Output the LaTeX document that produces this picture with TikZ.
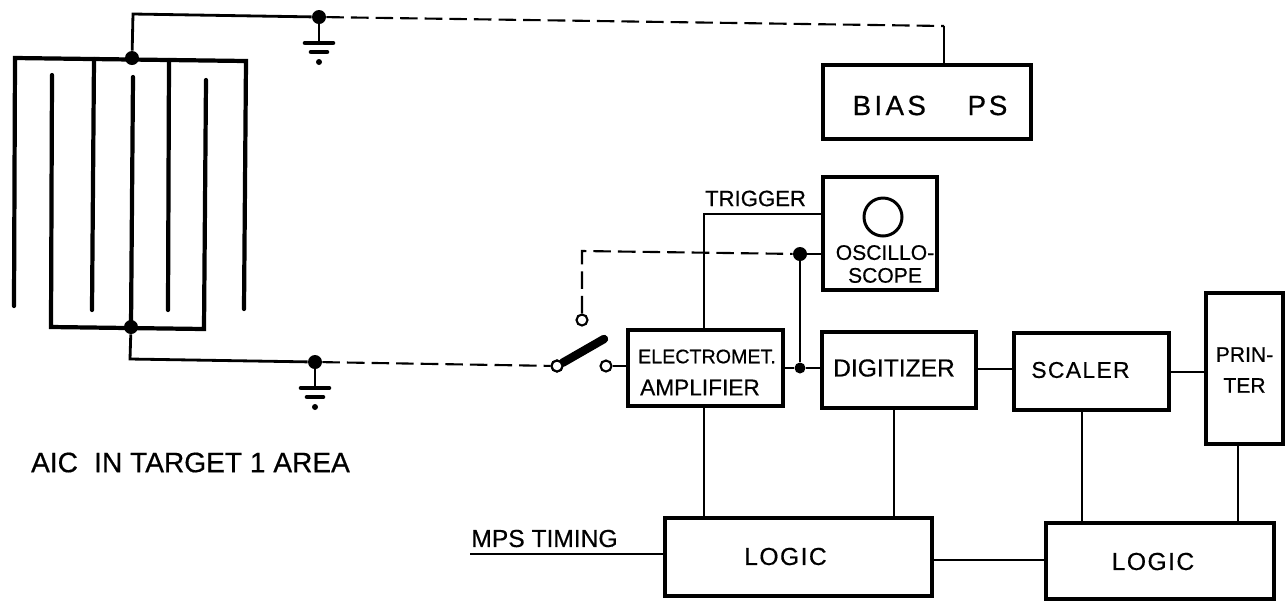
\documentclass[tikz,border=0pt]{standalone}
\usepackage{fontspec}
\setmainfont{Liberation Sans}[FakeBold=0.5]
\newfontfamily\spaced{Liberation Sans}[LetterSpace=6,FakeBold=0.5]
\newfontfamily\wspaced{Liberation Sans}[LetterSpace=12,FakeBold=0.5]
\usetikzlibrary{calc}
\tikzset{
  x=0.02cm,y=-0.02cm,
  box/.style 2 args={draw,line width=2pt,inner sep=0pt,minimum width=#1*0.02cm,minimum height=#2*0.02cm},
  wire/.style={line width=1.2pt},
  dash wire/.style={line width=1.2pt,dash pattern=on 10pt off 4pt},
  plate/.style={line width=2.4pt,line cap=round},
  bus/.style={line width=1.6pt},
  junction/.style={circle,fill=black,inner sep=0pt,minimum size=14*0.02cm},
  contact/.style={circle,draw,fill=white,line width=1.2pt,inner sep=0pt,minimum size=11*0.02cm},
  txt/.style={inner sep=0pt,align=center},
  gbar/.style={line width=2.6pt,line cap=round}
}
\newcommand{\sz}[2]{\fontsize{#1}{#2}\selectfont}
\newcommand{\grnd}[1]{%
  \draw[wire] (#1) -- ++(0,25);
  \draw[gbar] ($(#1)+(-14,26)$) -- ++(28,0);
  \draw[gbar] ($(#1)+(-8,35)$) -- ++(16,0);
  \fill ($(#1)+(0,45)$) circle (3*0.02cm);
}
\begin{document}
\begin{tikzpicture}
\useasboundingbox (0,0) rectangle (1286,600);
% boxes
\node[box={208}{74}] (bias) at (927,102) {};
\node[box={114}{113}] (scope) at (880,233.5) {};
\node[draw,circle,line width=1.7pt,minimum size=38*0.02cm,inner sep=0pt] (crt) at (883,217) {};
\node[box={155}{76}] (elec) at (705.5,368) {};
\node[box={154}{76}] (dig) at (899,370) {};
\node[box={155}{77}] (scal) at (1091.5,371.5) {};
\node[box={77}{151}] (prt) at (1244.5,368.5) {};
\node[box={267}{78}] (logica) at (798.5,557) {};
\node[box={228}{76}] (logicb) at (1160,561) {};
% texts
\node[txt,font=\sz{15.8}{18}] (biast) at (930,105.5) {\wspaced BIAS\hspace{1.5em}P\hspace{0.1em}S};
\node[txt,font=\sz{12}{13}] (scopet) at (885,264) {OSCILLO-\\SCOPE};
\node[txt,font=\sz{11.2}{13}] (eleca) at (707,356.5) {ELECTROMET.};
\node[txt,font=\sz{12.9}{15}] (elecb) at (700,387.5) {AMPLIFIER};
\node[txt,font=\sz{14}{16}] (digt) at (894,368) {DIGITIZER};
\node[txt,font=\sz{13}{15}] (scalt) at (1080.5,370) {\spaced SCALER};
\node[txt,font=\sz{12}{17.6}] (prtt) at (1244.5,370) {PRIN-\\TER};
\node[txt,font=\sz{14}{16}] (logat) at (785.5,556.5) {\spaced LOGIC};
\node[txt,font=\sz{14}{16}] (logbt) at (1153,561.5) {\spaced LOGIC};
\node[txt,font=\sz{12.6}{14}] (trig) at (755.5,198.5) {TRIGGER};
\node[txt,font=\sz{14}{16}] (mps) at (544.5,538.5) {MPS TIMING};
\node[txt,font=\sz{16}{18}] (aic) at (190.5,462.5) {AIC\hspace{0.3em} IN TARGET 1 AREA};
% junctions
\node[junction] (jt) at (132,58) {};
\node[junction] (jb) at (131,327) {};
\node[junction] (gt) at (319,17) {};
\node[junction] (gb) at (315,362) {};
\node[junction] (js) at (800,254) {};
\node[junction,minimum size=11*0.02cm] (jd) at (800,368) {};
\coordinate (jtc) at (133,14);
\coordinate (jbc) at (130,359);
\coordinate (bc) at (944,26);
\coordinate (dc) at (582,251);
\coordinate (tc) at (704,214);
\coordinate (mpsl) at (470,554);
% chamber plates
\draw[plate] (14,306) -- (15,58) -- (246,61) -- (244,309);
\draw[plate] (94,59) -- (92,310);
\draw[plate] (169,60) -- (168,310);
\draw[plate] (52,75) -- (51,327) -- (204,329) -- (206,80);
\draw[plate] (133,77) -- (131,327);
% bias and signal leads
\draw[bus] (jt) -- (jtc) -- (gt);
\draw[dash wire] (gt) -- (bc);
\draw[wire] (bc) -- (bc |- bias.north);
\grnd{gt}
\draw[bus] (jb) -- (jbc) -- (gb);
\grnd{gb}
% switch
\node[contact] (sw) at (557,366) {};
\node[contact] (swb) at (606,366) {};
\node[contact] (swt) at (582,320) {};
\coordinate (arm) at (604,339);
\draw[dash wire] (gb) -- (sw);
\draw[wire] (swb) -- (swb -| elec.west);
\draw[line width=4.8pt,line cap=round] (sw) -- (arm);
\node[contact] at (sw) {};
% signal paths
\draw[dash wire] (swt) -- (dc) -- (js);
\draw[wire] (js) -- (js -| scope.west);
\draw[wire] (js) -- (jd);
\draw[wire] (elec.east |- jd) -- (jd) -- (dig.west |- jd);
\draw[wire] (elec.north -| tc) -- (tc) -- (tc -| scope.west);
\draw[wire] (dig.east |- 0,369) -- (scal.west |- 0,369);
\draw[wire] (scal.east |- 0,372) -- (prt.west |- 0,372);
% logic links
\draw[wire] (elec.south -| tc) -- (tc |- logica.north);
\draw[wire] (dig.south -| 894,0) -- (logica.north -| 894,0);
\draw[wire] (scal.south -| 1082,0) -- (logicb.north -| 1082,0);
\draw[wire] (prt.south -| 1238,0) -- (logicb.north -| 1238,0);
\draw[wire] (logica.east |- 0,560) -- (logicb.west |- 0,560);
\draw[wire] (mpsl) -- (mpsl -| logica.west);
\end{tikzpicture}
\end{document}
